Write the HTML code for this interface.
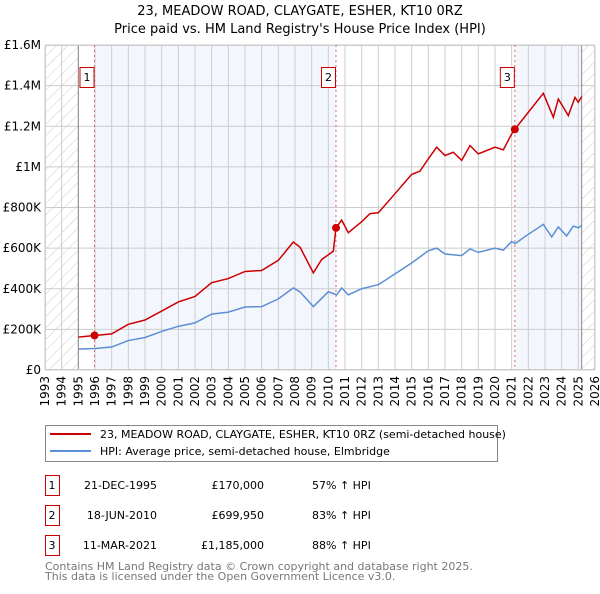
<!DOCTYPE html>
<html><head><meta charset="utf-8"><style>
body{margin:0;background:#fff;font-family:"DejaVu Sans","Liberation Sans",sans-serif;}
svg text{font-family:"DejaVu Sans","Liberation Sans",sans-serif;}
</style></head><body>
<svg id="c" width="600" height="590" xmlns="http://www.w3.org/2000/svg">
<defs><pattern id="hatch" width="8" height="8" patternUnits="userSpaceOnUse" patternTransform="rotate(45)"><line x1="0" y1="0" x2="0" y2="8" stroke="#ccc" stroke-width="1"/></pattern></defs>
<text x="300" y="15" text-anchor="middle" font-size="13">23, MEADOW ROAD, CLAYGATE, ESHER, KT10 0RZ</text>
<text x="300" y="33" text-anchor="middle" font-size="13">Price paid vs. HM Land Registry's House Price Index (HPI)</text>
<g id="plot"></g>
<g>
<rect x="45.5" y="425.5" width="452" height="36" fill="#fff" stroke="#888"/>
<line x1="50" y1="434" x2="91" y2="434" stroke="#cc0000" stroke-width="2"/>
<text x="100" y="438" font-size="11">23, MEADOW ROAD, CLAYGATE, ESHER, KT10 0RZ (semi-detached house)</text>
<line x1="50" y1="451" x2="91" y2="451" stroke="#5b8fd4" stroke-width="2"/>
<text x="100" y="455" font-size="11">HPI: Average price, semi-detached house, Elmbridge</text>
</g>
<g id="table" font-size="11"></g>
<text x="45" y="570" font-size="11" fill="#777">Contains HM Land Registry data © Crown copyright and database right 2025.</text>
<text x="45" y="580" font-size="11" fill="#777">This data is licensed under the Open Government Licence v3.0.</text>
</svg>
<script>
const hpiYears=[1995,1996,1997,1998,1999,2000,2001,2002,2003,2004,2005,2006,2007,2007.9,2008.3,2009.1,2010,2010.5,2010.8,2011.2,2012,2013,2014,2015,2016,2016.5,2017,2018,2018.5,2019,2020,2020.5,2021,2021.2,2022,2022.9,2023.4,2023.8,2024.3,2024.7,2025,2025.2];
const hpiValues=[103000,106000,113000,145000,160000,190000,215000,232000,275000,285000,310000,312000,350000,404000,385000,312000,385000,370000,404000,370000,400000,420000,473000,527000,587000,600000,571000,563000,596000,579000,600000,590000,633000,622000,668000,717000,655000,704000,660000,709000,700000,712000];
const priceYears=[1995,1995.97,1997,1998,1999,2000,2001,2002,2003,2004,2005,2006,2007,2007.9,2008.3,2009.1,2009.6,2010.3,2010.46,2010.8,2011.2,2012,2012.5,2013,2014,2015,2015.5,2016,2016.5,2017,2017.5,2018,2018.5,2019,2020,2020.5,2021,2021.19,2022,2022.9,2023.5,2023.8,2024.4,2024.8,2025,2025.2];
const priceValues=[162000,170000,178000,225000,246000,290000,335000,362000,430000,450000,485000,490000,540000,630000,605000,478000,544000,585000,699950,738000,676000,730000,770000,774000,868000,963000,979000,1040000,1097000,1056000,1072000,1032000,1105000,1064000,1097000,1084000,1162000,1185000,1269000,1362000,1244000,1334000,1252000,1342000,1318000,1346000];
const saleYears=[1995.97,2010.46,2021.19];
const saleValues=[170000,699950,1185000];
const saleLabels=["1","2","3"];
const saleDates=["21-DEC-1995","18-JUN-2010","11-MAR-2021"];
const salePrices=["£170,000","£699,950","£1,185,000"];
const saleHpi=["57% ↑ HPI","83% ↑ HPI","88% ↑ HPI"];
const yTicks=[0,200000,400000,600000,800000,1000000,1200000,1400000,1600000];
const yTickLabels=["£0","£200K","£400K","£600K","£800K","£1M","£1.2M","£1.4M","£1.6M"];
const xStart=1993,xEnd=2026,dataStart=1995,dataEnd=2025.2;

const NS="http://www.w3.org/2000/svg";
const L=45,R=595,T=45,B=370;
const X=y=>L+(y-xStart)/(xEnd-xStart)*(R-L);
const Y=v=>B-v/1600000*(B-T);
const g=document.getElementById('plot');
function el(t,a,p){const e=document.createElementNS(NS,t);for(const k in a)e.setAttribute(k,a[k]);(p||g).appendChild(e);return e;}
let r;
r=el('rect',{x:L,y:T,width:R-L,height:B-T,fill:'#fff'});


r=el('rect',{x:X(saleYears[0]),y:T,width:X(saleYears[1])-X(saleYears[0]),height:B-T,fill:'#eef3fc',opacity:0.7});


r=el('rect',{x:X(saleYears[2]),y:T,width:X(dataEnd)-X(saleYears[2]),height:B-T,fill:'#eef3fc',opacity:0.7});


r=el('rect',{x:L,y:T,width:X(dataStart)-L,height:B-T,fill:'url(#hatch)'});


r=el('rect',{x:X(dataEnd),y:T,width:R-X(dataEnd),height:B-T,fill:'url(#hatch)'});


for(let yr=xStart;yr<=xEnd;yr++){
 r=el('line',{x1:X(yr),x2:X(yr),y1:T,y2:B,stroke:'#ccc','stroke-width':1});
 
 
 const t=el('text',{x:0,y:0,'font-size':12,'text-anchor':'end',transform:`translate(${X(yr)+4},${B+6}) rotate(-90)`});
 t.textContent=yr;
 
 
}
yTicks.forEach((v,i)=>{
 r=el('line',{x1:L,x2:R,y1:Y(v),y2:Y(v),stroke:'#ccc','stroke-width':1});
 
 
 const t=el('text',{x:L-4,y:Y(v)+4,'font-size':12,'text-anchor':'end'});
 t.textContent=yTickLabels[i];
 
 
});
r=el('line',{x1:X(dataStart),x2:X(dataStart),y1:T,y2:B,stroke:'#888'});


r=el('line',{x1:X(dataEnd),x2:X(dataEnd),y1:T,y2:B,stroke:'#888'});


r=el('rect',{x:L+.5,y:T+.5,width:R-L-1,height:B-T-1,fill:'none',stroke:'#ccc'});


saleYears.forEach((s,i)=>{
 r=el('line',{x1:X(s),x2:X(s),y1:T,y2:B,stroke:'#e06666','stroke-dasharray':'2,3'});
 
 
 r=el('rect',{x:X(s)-14.5,y:67.5,width:14,height:20,fill:'#fff',stroke:'#cc0000'});
 
 
 const t=el('text',{x:X(s)-7.5,y:81,'font-size':11,'text-anchor':'middle'});
 t.textContent=saleLabels[i];
 
 
});
r=el('polyline',{points:hpiYears.map((y,i)=>X(y)+','+Y(hpiValues[i])).join(' '),fill:'none',stroke:'#5b8fd4','stroke-width':1.5});


r=el('polyline',{points:priceYears.map((y,i)=>X(y)+','+Y(priceValues[i])).join(' '),fill:'none',stroke:'#cc0000','stroke-width':1.5});


saleYears.forEach((s,i)=>{
 r=el('circle',{cx:X(s),cy:Y(saleValues[i]),r:4,fill:'#cc0000'});
 
 
});
const tb=document.getElementById('table');
saleLabels.forEach((lab,i)=>{
 const y0=475+i*30;
 r=el('rect',{x:45.5,y:y0+.5,width:14,height:20,fill:'#fff',stroke:'#cc0000'},tb);
 
 
 const cells=[[52,lab,'middle'],[157,saleDates[i],'end'],[264,salePrices[i],'end'],[312,saleHpi[i],'start']];
 cells.forEach(c=>{
  const t=el('text',{x:c[0],y:y0+14,'text-anchor':c[2]},tb);
  t.textContent=c[1];
  
  
 });
});
</script>
</body></html>
